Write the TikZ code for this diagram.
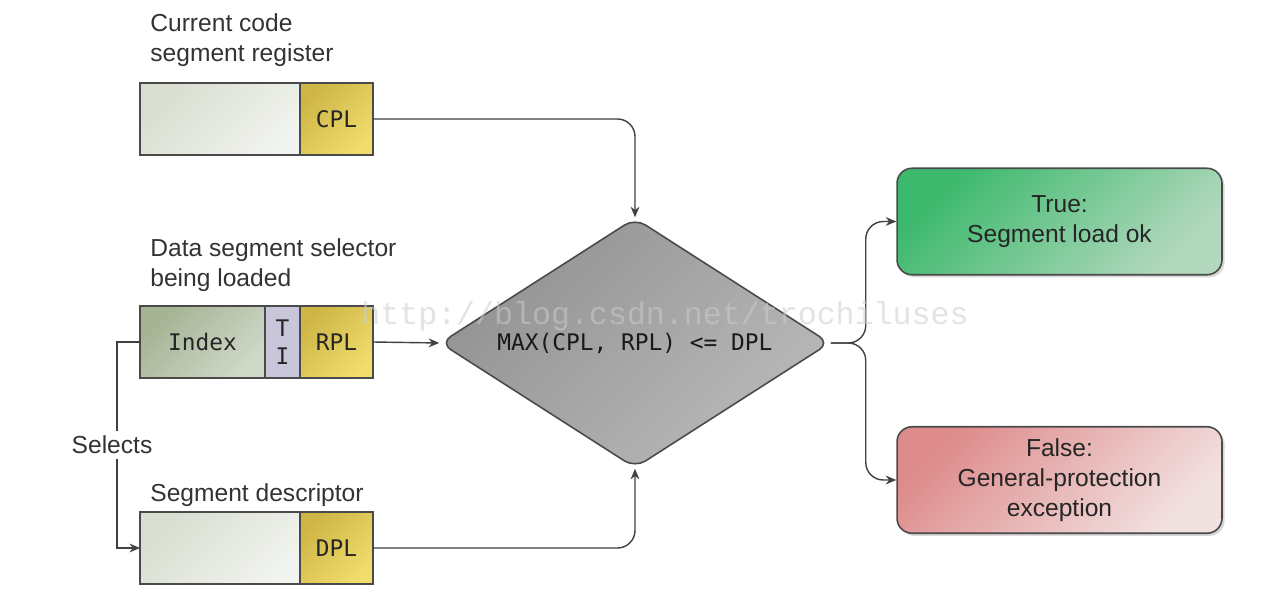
\documentclass[tikz,border=0pt]{standalone}
\usepackage{fontspec}
\setmainfont{Liberation Sans}
\setmonofont{DejaVu Sans Mono}
\newfontfamily\wmfont{Liberation Mono}
\usepackage{xcolor}
\usepackage{tikz}
\usetikzlibrary{positioning}
\usetikzlibrary{shapes.geometric}
\usetikzlibrary{arrows.meta}
\usetikzlibrary{shadows}

\definecolor{plainL}{HTML}{D8DED0}
\definecolor{plainR}{HTML}{F1F3EE}
\definecolor{goldL}{HTML}{CDB546}
\definecolor{goldR}{HTML}{F0DD6C}
\definecolor{indexL}{HTML}{A4B393}
\definecolor{indexR}{HTML}{D0D8C8}
\definecolor{tiC}{HTML}{C9C6DA}
\definecolor{decL}{HTML}{929292}
\definecolor{decR}{HTML}{B9B9B9}
\definecolor{trueL}{HTML}{3CB96C}
\definecolor{trueR}{HTML}{B2D8BD}
\definecolor{falseL}{HTML}{DE8B8B}
\definecolor{falseR}{HTML}{F2E1E1}
\definecolor{edge}{HTML}{4A4A4A}

\tikzset{
  field/.style={draw=edge, line width=0.9pt, outer sep=0pt, inner sep=0pt,
    minimum height=1.44cm, font=\fontsize{13}{16}\ttfamily, text=black!85},
  plain/.style={field, minimum width=3.2cm, left color=plainL, right color=plainR, shading angle=45},
  gold/.style={field, minimum width=1.46cm, left color=goldL, right color=goldR, shading angle=45},
  index/.style={field, minimum width=2.5cm, left color=indexL, right color=indexR, shading angle=45},
  tibox/.style={field, minimum width=0.7cm, fill=tiC, align=center},
  lbl/.style={font=\fontsize{14}{17}\selectfont, align=left, inner sep=0pt, text=black!80},
  decision/.style={diamond, aspect=1.56, draw=edge, line width=0.9pt, rounded corners=7pt,
    minimum width=7.8cm, minimum height=5.0cm, inner sep=1pt,
    left color=decL, right color=decR, shading angle=45,
    font=\fontsize{13}{16}\ttfamily, text=black!90},
  result/.style={draw=edge, line width=0.9pt, rounded corners=0.3cm,
    minimum width=6.5cm, minimum height=2.13cm, align=center,
    font=\fontsize{14}{17}\selectfont, text=black!85,
    drop shadow={shadow xshift=1.5pt, shadow yshift=-1.5pt, opacity=0.3}},
  okbox/.style={result, left color=trueL, right color=trueR, shading angle=45},
  failbox/.style={result, left color=falseL, right color=falseR, shading angle=45},
  arr/.style={draw=black!75, line width=0.8pt, -{Stealth[length=6pt,width=5pt]}},
  watermark/.style={font=\wmfont\fontsize{18}{20}\selectfont, text=gray!40, text opacity=0.55}
}

\begin{document}
\begin{tikzpicture}[x=0.02cm, y=-0.02cm]
\useasboundingbox (0,0) rectangle (1277,614);
% current code segment register
\node[plain] (cs) at (220,119) {};
\node[gold, right=0pt of cs] (cpl) {CPL};
\node[lbl, above right=0.32cm and 0.2cm of cs.north west] (cslbl) {Current code\\segment register};
% selector being loaded
\node[index] (idx) at (202.5,342) {Index};
\node[tibox, right=0pt of idx] (ti) {T\\I};
\node[gold, right=0pt of ti] (rpl) {RPL};
\node[lbl, above right=0.28cm and 0.2cm of idx.north west] (sellbl) {Data segment selector\\being loaded};
% segment descriptor
\node[plain] (dsc) at (220,548) {};
\node[gold, right=0pt of dsc] (dpl) {DPL};
\node[lbl, above right=0.1cm and 0.2cm of dsc.north west] (dsclbl) {Segment descriptor};
% check
\node[decision] (dec) at (635,343) {MAX(CPL, RPL) <= DPL};
% results
\node[okbox] (ok) at (1059.5,221.5) {True:\\Segment load ok};
\node[failbox] (fail) at (1059.5,480) {False:\\General-protection\\exception};
% arrows
\draw[arr, rounded corners=10pt] (cpl.east) -| (dec.north);
\draw[arr] (rpl.east) -- (dec.west);
\draw[arr, rounded corners=10pt] (dpl.east) -| (dec.south);
\coordinate[left=0.46cm of idx.west] (selturn);
\draw[arr] (idx.west) -- (selturn) |- node[pos=0.25, lbl, fill=white, inner sep=3pt, xshift=-0.1cm] (selects) {Selects} (dsc.west);
\coordinate[right=0.7cm of dec.east] (fork);
\draw[arr, rounded corners=10pt] (dec.east) -- (fork) |- (ok.west);
\draw[arr, rounded corners=10pt] (dec.east) -- (fork) |- (fail.west);
% watermark
\node[watermark] (wm) at (665,316) {http://blog.csdn.net/trochiluses};
\end{tikzpicture}
\end{document}
